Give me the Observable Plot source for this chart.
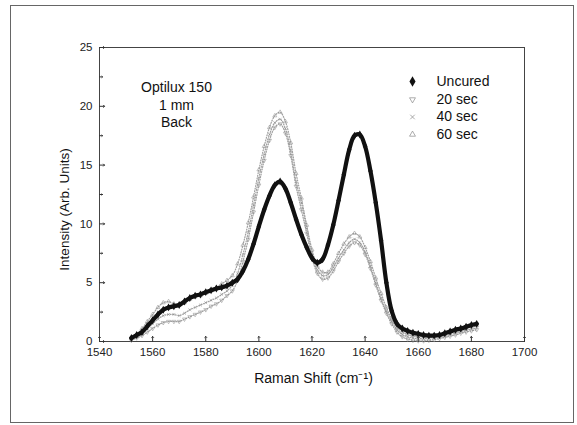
<!DOCTYPE html>
<html>
<head>
<meta charset="utf-8">
<script src="https://cdn.jsdelivr.net/npm/d3@7"></script>
<script src="https://cdn.jsdelivr.net/npm/@observablehq/plot@0.6"></script>
<style>
  html, body { margin: 0; padding: 0; background: #fff; }
  #wrap { position: relative; width: 577px; height: 425px; overflow: hidden; }
  #border { position: absolute; left: 10px; top: 5px; width: 564px; height: 418px; box-sizing: border-box; border: 1px solid #666; }
  #chart { position: absolute; left: 0; top: 0; }
</style>
</head>
<body>
<div id="wrap"><div id="border"></div><div id="chart"></div></div>
<script>
// ---- data ----
const shift = [1552,1554,1556,1558,1560,1562,1564,1566,1568,1570,1572,1574,1576,1578,1580,1582,1584,1586,1588,1590,
  1592,1594,1596,1598,1600,1602,1604,1606,1608,1610,1612,1614,1616,1618,1620,1622,1624,1626,1628,1630,
  1632,1634,1636,1638,1640,1642,1644,1646,1648,1650,1652,1654,1656,1658,1660,1662,1664,1666,1668,1670,
  1672,1674,1676,1678,1680,1682];
const uncured = [0.3,0.55,0.8,1.3,1.8,2.3,2.7,2.9,3.0,3.1,3.4,3.7,3.9,4.0,4.2,4.35,4.5,4.6,4.75,5.0,
  5.3,6.0,7.0,8.3,9.8,11.2,12.4,13.3,13.6,13.0,11.8,10.4,9.1,8.0,7.1,6.7,7.0,8.2,9.9,12.0,
  14.2,16.3,17.5,17.6,16.6,14.5,11.8,8.6,5.0,2.6,1.5,1.1,0.9,0.75,0.65,0.55,0.5,0.5,0.55,0.7,
  0.85,1.0,1.1,1.25,1.4,1.5];
const sec20 = [0.1,0.3,0.5,0.8,1.1,1.4,1.6,1.7,1.7,1.7,1.9,2.1,2.3,2.5,2.7,3.0,3.2,3.5,3.9,4.3,
  5.2,6.8,8.7,11.0,13.3,15.4,17.1,18.2,18.5,17.7,15.8,13.2,11.2,9.2,7.1,5.8,5.3,5.4,6.0,6.8,
  7.5,8.1,8.4,8.2,7.4,6.2,4.8,3.5,2.4,1.5,0.8,0.4,0.2,0.1,0.05,0.05,0.1,0.15,0.25,0.35,
  0.45,0.55,0.7,0.8,0.9,1.0];
const sec40 = [0.2,0.4,0.7,1.1,1.5,1.9,2.2,2.3,2.3,2.2,2.4,2.7,2.9,3.1,3.3,3.5,3.7,4.0,4.3,4.8,
  5.8,7.4,9.3,11.6,13.9,15.9,17.6,18.6,18.9,18.1,16.2,13.6,11.8,9.6,7.5,6.1,5.6,5.7,6.3,7.1,
  7.8,8.4,8.7,8.4,7.6,6.4,5.0,3.7,2.6,1.7,1.0,0.6,0.4,0.3,0.25,0.25,0.3,0.35,0.4,0.5,
  0.6,0.7,0.85,0.95,1.05,1.15];
const sec60 = [0.3,0.6,1.1,1.7,2.3,2.9,3.3,3.4,3.2,3.1,3.3,3.6,3.8,3.9,4.1,4.3,4.6,4.9,5.2,5.6,
  6.6,8.2,10.1,12.3,14.6,16.6,18.2,19.2,19.5,18.7,16.9,14.3,12.2,9.9,7.8,6.4,5.9,5.9,6.6,7.5,
  8.3,8.9,9.2,8.9,8.0,6.8,5.4,4.1,2.9,1.9,1.2,0.8,0.6,0.5,0.45,0.45,0.5,0.55,0.6,0.7,
  0.8,0.9,1.0,1.1,1.25,1.35];
const seriesNames = ["Uncured", "20 sec", "40 sec", "60 sec"];
const xTicks = [1540,1560,1580,1600,1620,1640,1660,1680,1700];
const yTicks = [0,5,10,15,20,25];
const yMinorTicks = [2.5,7.5,12.5,17.5,22.5];
const noteLines = ["Optilux 150", "1 mm", "Back"];
const xTitle = "Raman Shift (cm\u207B\u00B9)";
const yTitle = "Intensity (Arb. Units)";

// ---- build ----
const toRows = (ys) => shift.map((x, i) => ({x, y: ys[i]}));
const grays = [
  {name: seriesNames[1], rows: toRows(sec20), symbol: "triangle", rotate: 180},
  {name: seriesNames[2], rows: toRows(sec40), symbol: "times", rotate: 0},
  {name: seriesNames[3], rows: toRows(sec60), symbol: "triangle", rotate: 0}
];
const grayColor = "#a0a0a0";
const font = "'Liberation Sans', Arial, sans-serif";

const marks = [];
marks.push(Plot.frame({stroke: "#444", strokeWidth: 1}));
for (const g of grays) {
  marks.push(Plot.line(g.rows, {x: "x", y: "y", curve: "catmull-rom", stroke: grayColor, strokeWidth: 1.2, strokeDasharray: "1,1.6"}));
  marks.push(Plot.dot(g.rows, {x: "x", y: "y", symbol: () => g.symbol, rotate: g.rotate, r: 1.5, stroke: "#8a8a8a", strokeWidth: 0.5, fill: "none"}));
}
const unc = toRows(uncured);
marks.push(Plot.line(unc, {x: "x", y: "y", curve: "catmull-rom", stroke: "#111", strokeWidth: 4.2}));
marks.push(Plot.dot(unc, {x: "x", y: "y", symbol: "diamond", r: 2.4, fill: "#111"}));

// axes: labels only, ticks drawn inward
marks.push(Plot.axisX(xTicks, {tickSize: 0, tickPadding: 6, fontSize: 11.5, fill: "#222", label: null, tickFormat: d => String(d)}));
marks.push(Plot.axisY(yTicks, {tickSize: 0, tickPadding: 7, fontSize: 11.5, fill: "#222", label: null, tickFormat: d => String(d)}));
marks.push(Plot.vector(xTicks, {x: d => d, frameAnchor: "bottom", rotate: 0, length: 5, anchor: "start", stroke: "#333", strokeWidth: 1}));
marks.push(Plot.vector(yTicks, {y: d => d, frameAnchor: "left", rotate: 90, length: 5, anchor: "start", stroke: "#333", strokeWidth: 1}));
marks.push(Plot.vector(yMinorTicks, {y: d => d, frameAnchor: "left", rotate: 90, length: 3, anchor: "start", stroke: "#333", strokeWidth: 1}));

// titles
marks.push(Plot.text([xTitle], {text: d => d, frameAnchor: "bottom", lineAnchor: "middle", dy: 37, dx: 1.5, fontSize: 14, fill: "#111"}));
marks.push(Plot.text([yTitle], {text: d => d, frameAnchor: "left", textAnchor: "middle", lineAnchor: "middle", dx: -35, dy: 15, rotate: -90, fontSize: 13.5, fill: "#111"}));

// note
const noteDy = [40, 58, 75];
noteLines.forEach((t, i) => {
  marks.push(Plot.text([t], {text: d => d, frameAnchor: "top-left", textAnchor: "middle", lineAnchor: "middle", dx: 77, dy: noteDy[i], fontSize: 14, fill: "#111"}));
});

// legend
const legDy = [34, 52, 69.5, 87];
const legSym = [
  {symbol: "diamond", rotate: 0, fill: "#111", stroke: "none", r: 3.2},
  {symbol: "triangle", rotate: 180, fill: "none", stroke: "#888", r: 2.2},
  {symbol: "times", rotate: 0, fill: "none", stroke: "#888", r: 2.2},
  {symbol: "triangle", rotate: 0, fill: "none", stroke: "#888", r: 2.2}
];
seriesNames.forEach((name, i) => {
  const s = legSym[i];
  marks.push(Plot.dot([name], {frameAnchor: "top-left", dx: 313, dy: legDy[i], symbol: () => s.symbol, rotate: s.rotate, r: s.r, fill: s.fill, stroke: s.stroke, strokeWidth: 0.7}));
  marks.push(Plot.text([name], {text: d => d, frameAnchor: "top-left", textAnchor: "start", lineAnchor: "middle", dx: 337, dy: legDy[i], fontSize: 14, fill: "#111"}));
});

const chart = Plot.plot({
  width: 577,
  height: 425,
  marginLeft: 99,
  marginRight: 53,
  marginTop: 47,
  marginBottom: 84,
  x: {domain: [1540, 1700], axis: null},
  y: {domain: [0, 25], axis: null},
  style: {fontFamily: font, fontSize: "12px", background: "transparent", color: "#111"},
  marks
});
document.getElementById("chart").appendChild(chart);
</script>
</body>
</html>
